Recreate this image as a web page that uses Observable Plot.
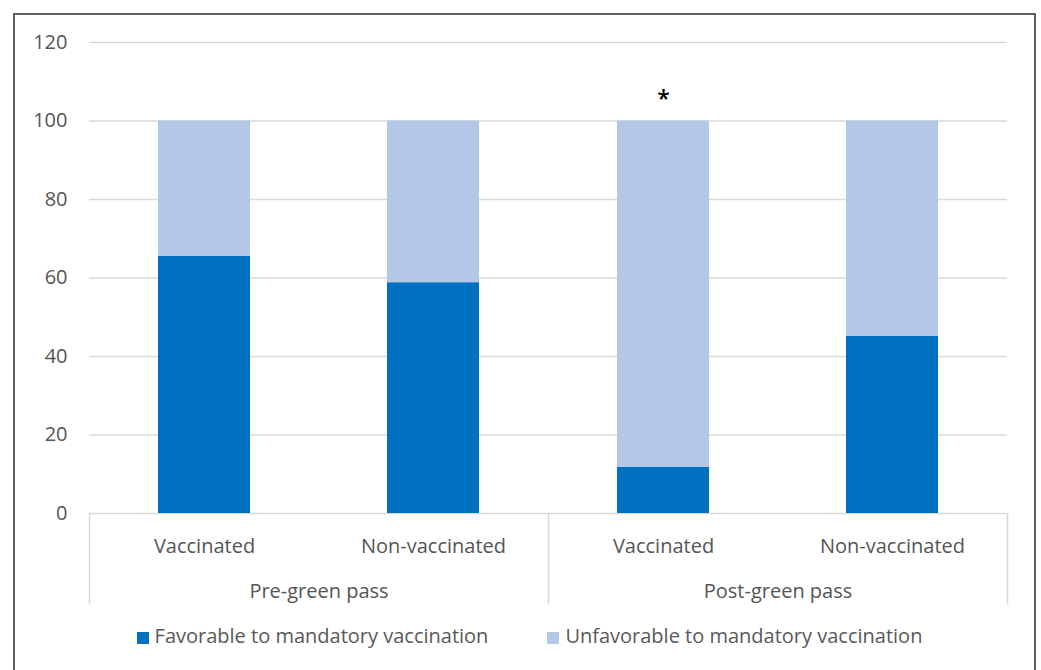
<!DOCTYPE html>
<html><head><meta charset="utf-8">
<script src="https://cdn.jsdelivr.net/npm/d3@7"></script>
<script src="https://cdn.jsdelivr.net/npm/@observablehq/plot@0.6"></script>
<style>
body{margin:0;background:#fff;font-family:"Open Sans",sans-serif;}
#wrap{position:relative;width:1041px;height:670px;overflow:hidden;background:#fff;}
#border{position:absolute;left:13px;top:13px;width:1023px;height:720px;border:2px solid #5f5f5f;box-sizing:border-box;}
#chart{position:absolute;left:0;top:0;}
#legend{position:absolute;left:70px;width:919px;top:622px;display:flex;justify-content:center;gap:59px;font-size:20px;color:#595959;line-height:1.362;}
#legend .item{display:flex;align-items:center;white-space:nowrap;}
#legend .sw{width:12px;height:12px;margin-right:6px;display:inline-block;position:relative;top:2px;}
</style></head>
<body><div id="wrap"><div id="border"></div><div id="chart"></div><div id="legend"></div></div>
<script>
const periods = ["Pre-green pass", "Pre-green pass", "Post-green pass", "Post-green pass"];
const groups = ["Vaccinated", "Non-vaccinated", "Vaccinated", "Non-vaccinated"];
const favorable = [65.5, 58.8, 11.8, 45.1];
const unfavorable = [34.5, 41.2, 88.2, 54.9];
const responses = ["Favorable to mandatory vaccination", "Unfavorable to mandatory vaccination"];
const colors = ["#0070C0", "#B4C7E7"];
const yTicks = [0, 20, 40, 60, 80, 100, 120];
const significant = [{period: "Post-green pass", group: "Vaccinated", label: "*"}];

const data = [];
periods.forEach((p, i) => {
  data.push({period: p, group: groups[i], response: responses[0], value: favorable[i]});
  data.push({period: p, group: groups[i], response: responses[1], value: unfavorable[i]});
});
const totals = significant.map(s => {
  const i = periods.findIndex((p, k) => p === s.period && groups[k] === s.group);
  return {...s, total: favorable[i] + unfavorable[i]};
});

const chart = Plot.plot({
  width: 1041,
  height: 620,
  marginLeft: 88,
  marginRight: 34,
  marginTop: 42,
  marginBottom: 107,
  style: {fontFamily: "'Open Sans', sans-serif", fontSize: "20px", color: "#555555", background: "transparent"},
  fx: {domain: ["Pre-green pass", "Post-green pass"], padding: 0, axis: "bottom", tickSize: 0, tickPadding: 70, label: null},
  x: {domain: ["Vaccinated", "Non-vaccinated"], paddingInner: 0.6, paddingOuter: 0.3, tickSize: 0, tickPadding: 25, label: null},
  y: {domain: [0, 120], ticks: yTicks, tickSize: 0, tickPadding: 22, label: null},
  color: {domain: responses, range: colors},
  facet: {data: data, x: "period"},
  marks: [
    Plot.ruleY(yTicks, {stroke: "#d9d9d9", strokeWidth: 1.5}),
    Plot.barY(data, {x: "group", y: "value", fill: "response", order: responses}),
    Plot.frame({anchor: "left", stroke: "#d9d9d9", strokeWidth: 1.5, insetTop: 471, insetBottom: -90, strokeOpacity: 1}),
    Plot.frame({anchor: "right", facetAnchor: "right", stroke: "#d9d9d9", strokeWidth: 1.5, insetTop: 471, insetBottom: -90, strokeOpacity: 1}),
    Plot.text(totals, {fx: "period", x: "group", y: "total", text: "label", dy: -21, fontSize: 23, fontWeight: 600, fill: "#000"})
  ]
});
document.getElementById("chart").appendChild(chart);

const legend = document.getElementById("legend");
responses.forEach((r, i) => {
  const item = document.createElement("div");
  item.className = "item";
  const sw = document.createElement("span");
  sw.className = "sw";
  sw.style.background = colors[i];
  const t = document.createElement("span");
  t.textContent = r;
  item.appendChild(sw); item.appendChild(t);
  legend.appendChild(item);
});
</script></body></html>
